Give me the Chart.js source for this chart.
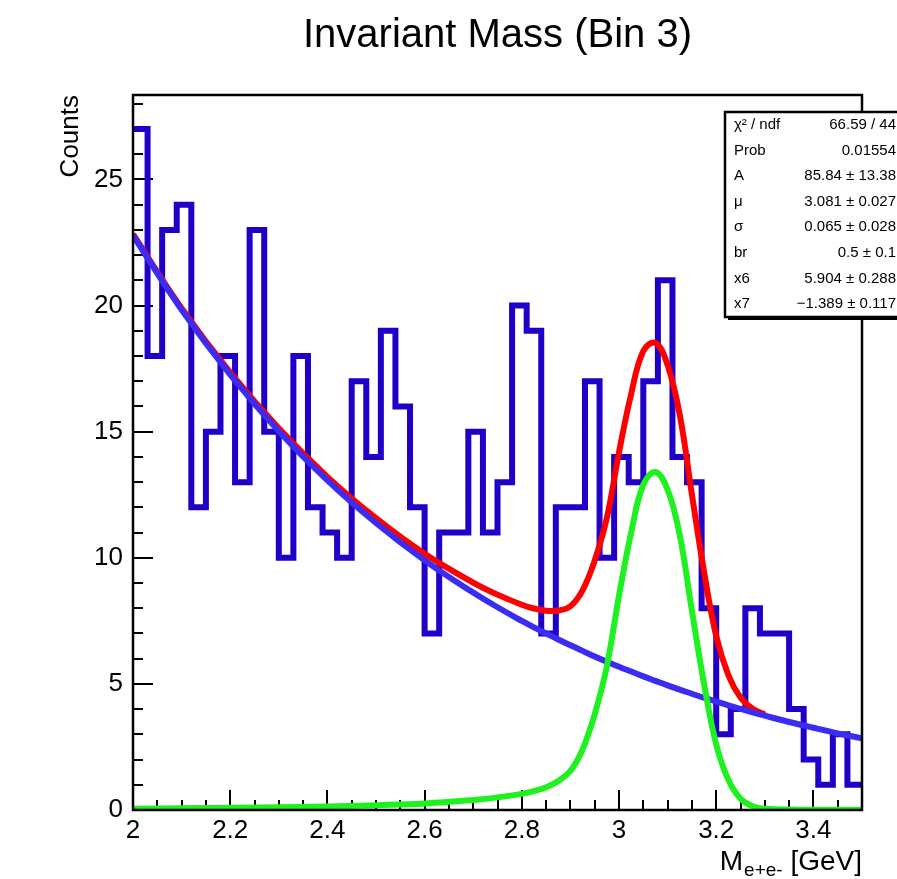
<!DOCTYPE html>
<html><head><meta charset="utf-8">
<script src="https://cdn.jsdelivr.net/npm/chart.js@4.4.1/dist/chart.umd.min.js"></script>
<style>html,body{margin:0;padding:0;background:#fff;}canvas{display:block;}</style>
</head><body>
<canvas id="c" width="897" height="879"></canvas>
<script>
// ---------- data ----------
const titleText = 'Invariant Mass (Bin 3)';
const yAxisTitle = 'Counts';
const xAxisTitleMain = 'M';
const xAxisTitleSub = 'e+e-';
const xAxisTitleUnit = ' [GeV]';

const histXMin = 2.0;
const histXMax = 3.5;
const counts = [27,18,23,24,12,15,18,13,23,15,
                10,18,12,11,10,17,14,19,16,12,
                7,11,11,15,11,13,20,19,7,12,
                12,17,10,14,13,17,21,14,13,8,
                3,4,8,7,7,4,2,1,3,1];

const curveX = [2.0,2.1,2.2,2.3,2.4,2.5,2.6,2.7,2.75,2.8,2.825,2.85,2.875,2.9,2.925,2.95,2.975,
                3.0,3.025,3.05,3.075,3.1,3.125,3.15,3.175,3.2,3.225,3.25,3.275,3.3,3.35,3.4,3.45,3.5];
const signalY = [0.05,0.07,0.09,0.11,0.14,0.19,0.26,0.40,0.50,0.64,0.75,0.90,1.15,1.55,2.40,3.80,5.70,
                 8.50,11.0,12.9,13.4,12.7,10.9,7.9,5.0,2.6,1.2,0.45,0.15,0.05,0.02,0.01,0.01,0.01];
const backgroundY = [22.78,19.83,17.26,15.02,13.07,11.38,9.90,8.62,8.04,7.50,7.24,7.00,6.76,6.53,6.31,6.09,5.88,
                     5.68,5.49,5.30,5.12,4.94,4.77,4.61,4.45,4.30,4.15,4.01,3.87,3.74,3.49,3.26,3.04,2.84];
const totalX = [2.0,2.1,2.2,2.3,2.4,2.5,2.6,2.7,2.75,2.8,2.825,2.85,2.875,2.9,2.925,2.95,2.975,
                3.0,3.025,3.05,3.075,3.1,3.125,3.15,3.175,3.2,3.225,3.25,3.275,3.3];
const totalY = [22.83,19.90,17.35,15.13,13.21,11.57,10.16,9.02,8.54,8.14,7.99,7.90,7.91,8.08,8.71,9.89,11.58,
                14.18,16.49,18.20,18.52,17.64,15.67,12.51,9.45,6.90,5.35,4.46,4.02,3.79];

const xMajorTicks = [2.0,2.2,2.4,2.6,2.8,3.0,3.2,3.4];
const xTickLabels = ['2','2.2','2.4','2.6','2.8','3','3.2','3.4'];
const yMajorTicks = [0,5,10,15,20,25];
const yTickLabels = ['0','5','10','15','20','25'];
const yAxisMax = 28.35;

const statLabels = ['χ² / ndf','Prob','A','μ','σ','br','x6','x7'];
const statValues = ['66.59 / 44','0.01554','85.84 ± 13.38','3.081 ± 0.027','0.065 ± 0.028','0.5 ± 0.1','5.904 ± 0.288','−1.389 ± 0.117'];

// ---------- build ----------
const FONT = "'Liberation Sans', Arial, Helvetica, sans-serif";
const nb = counts.length;
const bw = (histXMax - histXMin) / nb;
const histPts = [];
counts.forEach((c, i) => {
  histPts.push({x: histXMin + i * bw, y: c});
  histPts.push({x: histXMin + (i + 1) * bw, y: c});
});
const pts = (xs, ys) => xs.map((x, i) => ({x, y: ys[i]}));

const framePlugin = {
  id: 'rootFrame',
  beforeDatasetsDraw(chart) {
    const ctx = chart.ctx, xs = chart.scales.x, ys = chart.scales.y;
    const {left, right, top, bottom} = chart.chartArea;
    ctx.save();
    ctx.strokeStyle = '#000';
    ctx.lineWidth = 2;
    ctx.beginPath();
    for (let v = 0; v <= Math.floor(yAxisMax); v++) {
      const py = Math.round(ys.getPixelForValue(v));
      const len = (v % 5 === 0) ? 20 : 10;
      ctx.moveTo(left, py); ctx.lineTo(left + len, py);
    }
    for (let k = 0; k <= 30; k++) {
      const v = histXMin + k * 0.05;
      const px = Math.round(xs.getPixelForValue(v));
      const len = (k % 4 === 0) ? 20 : 10;
      ctx.moveTo(px, bottom); ctx.lineTo(px, bottom - len);
    }
    ctx.stroke();
    ctx.restore();
  },
  afterDatasetsDraw(chart) {
    const ctx = chart.ctx;
    const {left, right, top, bottom} = chart.chartArea;
    ctx.save();
    ctx.strokeStyle = '#000';
    ctx.lineWidth = 2.5;
    ctx.strokeRect(left, top, right - left, bottom - top);
    ctx.restore();
  },
  afterDraw(chart) {
    const ctx = chart.ctx;
    const {right, bottom} = chart.chartArea;
    ctx.save();
    // x axis title with subscript
    ctx.fillStyle = '#000';
    ctx.textBaseline = 'alphabetic';
    ctx.textAlign = 'left';
    const mainFont = '28px ' + FONT, subFont = '19px ' + FONT;
    ctx.font = mainFont; const wM = ctx.measureText(xAxisTitleMain).width;
    const wU = ctx.measureText(xAxisTitleUnit).width;
    ctx.font = subFont; const wS = ctx.measureText(xAxisTitleSub).width;
    let x0 = right - (wM + wS + wU + 1);
    const base = bottom + 60;
    ctx.font = mainFont; ctx.fillText(xAxisTitleMain, x0, base);
    ctx.font = subFont; ctx.fillText(xAxisTitleSub, x0 + wM + 1, base + 6);
    ctx.font = mainFont; ctx.fillText(xAxisTitleUnit, x0 + wM + wS + 1, base);

    // stats box
    const bx = 725, by = 112, bwid = 185, bh = 205;
    ctx.fillStyle = '#000';
    ctx.fillRect(bx + 3, by + bh, bwid, 3);
    ctx.fillStyle = '#fff';
    ctx.fillRect(bx, by, bwid, bh);
    ctx.strokeStyle = '#000';
    ctx.lineWidth = 2.5;
    ctx.strokeRect(bx, by, bwid, bh);
    const rh = bh / statLabels.length;
    ctx.fillStyle = '#000';
    ctx.font = '15px ' + FONT;
    ctx.textBaseline = 'middle';
    statLabels.forEach((lab, i) => {
      const cy = by + (i + 0.5) * rh;
      ctx.textAlign = 'left';
      ctx.fillText(lab, bx + 9, cy);
      ctx.textAlign = 'right';
      ctx.fillText(statValues[i], 896, cy);
    });
    ctx.restore();
  }
};

const curveOpts = {pointRadius: 0, borderWidth: 6, tension: 0.4, cubicInterpolationMode: 'default', clip: 0};

new Chart(document.getElementById('c'), {
  type: 'line',
  data: {
    datasets: [
      Object.assign({label: 'signal', data: pts(curveX, signalY), borderColor: '#1ff01f'}, curveOpts),
      Object.assign({label: 'background', data: pts(curveX, backgroundY), borderColor: '#3a2cf2'}, curveOpts),
      Object.assign({label: 'total', data: pts(totalX, totalY), borderColor: '#ff0000'}, curveOpts),
      {label: 'data', data: histPts, borderColor: '#2000c8', borderWidth: 6, borderJoinStyle: 'miter',
       pointRadius: 0, tension: 0, clip: 0}
    ]
  },
  options: {
    responsive: false,
    animation: false,
    events: [],
    layout: {padding: {left: 0, right: 35, top: 0, bottom: 0}},
    plugins: {
      legend: {display: false},
      tooltip: {enabled: false},
      title: {display: true, text: titleText, fullSize: false, color: '#000',
              font: {family: FONT, size: 40, weight: 'normal'}, padding: {top: 12, bottom: 35}}
    },
    scales: {
      x: {type: 'linear', min: histXMin, max: histXMax,
          afterBuildTicks: s => { s.ticks = xMajorTicks.map(v => ({value: v})); },
          afterFit: s => { s.height = 69; },
          grid: {display: false, drawTicks: false}, border: {display: false},
          ticks: {callback: (v, i) => xTickLabels[i], autoSkip: false, maxRotation: 0, minRotation: 0,
                  padding: 5, color: '#000', font: {family: FONT, size: 26}}},
      y: {type: 'linear', min: 0, max: yAxisMax,
          afterBuildTicks: s => { s.ticks = yMajorTicks.map(v => ({value: v})); },
          afterFit: s => { s.width = 133; },
          grid: {display: false, drawTicks: false}, border: {display: false},
          title: {display: true, text: yAxisTitle, align: 'end', color: '#000',
                  font: {family: FONT, size: 26}, padding: {top: 55, bottom: 0}},
          ticks: {callback: (v, i) => yTickLabels[i], autoSkip: false, padding: 10, color: '#000',
                  font: {family: FONT, size: 26}}}
    }
  },
  plugins: [framePlugin]
});
</script>
</body></html>
